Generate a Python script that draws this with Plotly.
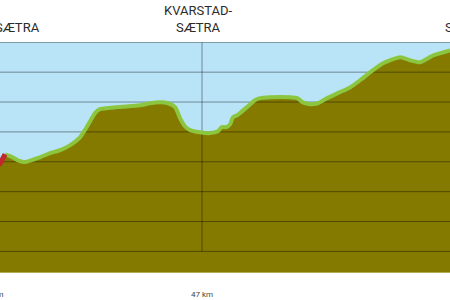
import plotly.graph_objects as go

# Elevation profile (distance in km, elevation in m)
route_km = [2.3, 3.4, 5.2, 6.8, 10.2, 12.5, 14.8, 17.0, 19.3, 20.4, 21.6, 22.7, 23.8, 27.7, 32.9,
            35.2, 37.5, 39.3, 40.9, 42.0, 43.1, 44.3, 46.5, 48.8, 50.6, 51.5, 52.5, 53.4, 54.0, 55.0,
            55.6, 57.2, 59.0, 60.2, 62.4, 67.0, 68.6, 69.9, 71.5, 73.3, 75.4, 78.3, 80.6, 82.9, 85.2,
            88.1, 92.0, 94.2, 96.5, 99.5, 103.3]
route_elev = [525, 519, 505, 499, 515, 529, 539, 555, 582, 606, 636, 663, 676, 683, 689,
              696, 699, 696, 683, 646, 619, 606, 599, 596, 602, 616, 616, 626, 649, 656,
              663, 683, 706, 713, 716, 716, 713, 699, 693, 696, 713, 733, 749, 773, 800,
              830, 850, 840, 833, 856, 873]

# Highlighted (red) stretch at the start
red_km = [0.9, 1.6, 2.3]
red_elev = [488, 508, 525]

grid_levels = [200, 300, 400, 500, 600, 700, 800, 900]
marker_km = 47

x_range = [1.135, 103.3]
y_range = [131, 901]

place_labels = [
    {"km": 5.2, "text": "SÆTRA", "y": 1.061, "anchor": "center"},
    {"km": 46.1, "text": "KVARSTAD-<br>SÆTRA", "y": 1.10, "anchor": "center"},
    {"km": 101.7, "text": "SÆTRA", "y": 1.061, "anchor": "left"},
]
km_labels = [(0, "0 km"), (47, "47 km")]

SKY = "#b9e3f7"
OLIVE = "#857a00"
GREEN = "#8cc63f"
RED = "#c1272d"
GRID = "rgba(0,0,0,0.4)"


def km_to_paper(km):
    return (km - x_range[0]) / (x_range[1] - x_range[0])


fig = go.Figure()

all_km = red_km + route_km[1:]
all_elev = red_elev + route_elev[1:]

fig.add_trace(go.Scatter(x=all_km, y=all_elev, mode="lines", fill="tozeroy",
                         fillcolor=OLIVE, line=dict(width=0, color=OLIVE),
                         hoverinfo="skip", showlegend=False))

for g in grid_levels:
    fig.add_trace(go.Scatter(x=x_range, y=[g, g], mode="lines",
                             line=dict(color=GRID, width=1), cliponaxis=False,
                             hoverinfo="skip", showlegend=False))
fig.add_trace(go.Scatter(x=[marker_km, marker_km], y=[grid_levels[0], grid_levels[-1]],
                         mode="lines", line=dict(color=GRID, width=1),
                         hoverinfo="skip", showlegend=False))

fig.add_trace(go.Scatter(x=route_km, y=route_elev, mode="lines",
                         line=dict(color=GREEN, width=4, shape="spline", smoothing=0.6),
                         hoverinfo="skip", showlegend=False))
fig.add_trace(go.Scatter(x=red_km, y=red_elev, mode="lines",
                         line=dict(color=RED, width=5),
                         hoverinfo="skip", showlegend=False))

for p in place_labels:
    fig.add_annotation(x=km_to_paper(p["km"]), xref="paper", y=p["y"], yref="paper",
                       text=p["text"], showarrow=False, xanchor=p["anchor"], yanchor="middle",
                       font=dict(family="Roboto", size=13, color="#2b2b2b"))
for km, t in km_labels:
    fig.add_annotation(x=km_to_paper(km), xref="paper", y=-0.0957, yref="paper", text=t,
                       showarrow=False, xanchor="center", yanchor="middle",
                       font=dict(family="Roboto", size=8, color="#444444"))

fig.update_layout(
    width=450, height=300,
    margin=dict(l=0, r=0, t=42, b=28),
    paper_bgcolor="white", plot_bgcolor=SKY,
    xaxis=dict(range=x_range, showgrid=False, zeroline=False, showticklabels=False,
               ticks="", showline=True, linecolor="#b3ad55", linewidth=1),
    yaxis=dict(range=y_range, showgrid=False, zeroline=False, showticklabels=False, ticks=""),
)

fig.write_html("out.html")
